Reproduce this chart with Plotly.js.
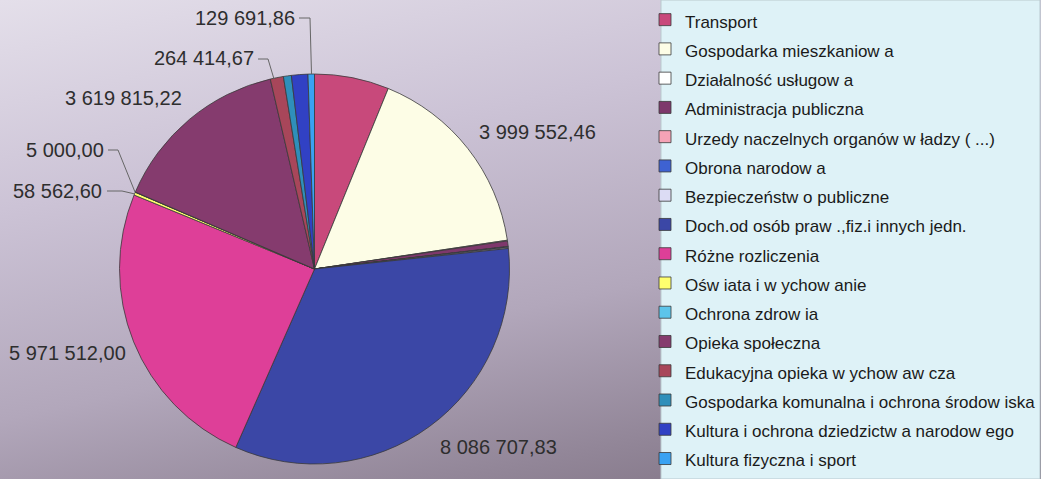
<!DOCTYPE html>
<html>
<head>
<meta charset="utf-8">
<script src="https://cdn.plot.ly/plotly-3.0.1.min.js"></script>
<style>
  html, body { margin: 0; padding: 0; }
  #chart {
    width: 1041px; height: 479px;
    background: linear-gradient(168deg, #e4dfea 0%, #ccc3d6 30%, #b2a7bb 60%, #928698 82%, #7a6d7d 100%);
  }
</style>
</head>
<body>
<div id="chart"></div>
<script>
// ---- data ----
const categories = [
  'Transport',
  'Gospodarka mieszkaniow a',
  'Działalność usługow a',
  'Administracja publiczna',
  'Urzedy naczelnych organów w ładzy ( ...)',
  'Obrona narodow a',
  'Bezpieczeństw o publiczne',
  'Doch.od osób praw .,fiz.i innych jedn.',
  'Różne rozliczenia',
  'Ośw iata i w ychow anie',
  'Ochrona zdrow ia',
  'Opieka społeczna',
  'Edukacyjna opieka w ychow aw cza',
  'Gospodarka komunalna i ochrona środow iska',
  'Kultura i ochrona dziedzictw a narodow ego',
  'Kultura fizyczna i sport'
];
const values = [
  1500000, 3999552.46, 15000, 110000, 8000, 12000, 20000,
  8086707.83, 5971512.00, 58562.60, 5000.00, 3619815.22,
  264414.67, 160000, 330000, 129691.86
];
const colors = [
  '#c8497b', '#fdfde6', '#ffffff', '#7e386c', '#f4a3b6', '#3e62d2', '#dcdcf4',
  '#3b47a6', '#de3f98', '#ffff6e', '#5cc4ea', '#853b6e',
  '#a8465a', '#2f8fba', '#3141c4', '#3aa2f2'
];
// indices of slices that carry a value label in the original
const labelled = [15, 12, 11, 10, 9, 1, 8, 7];

// ---- helpers ----
function fmtPL(v) {
  const parts = v.toFixed(2).split('.');
  const int = parts[0].replace(/\B(?=(\d{3})+(?!\d))/g, ' ');
  return int + ',' + parts[1];
}
const W = 1041, H = 479;
const px = x => x / W;
const py = y => 1 - y / H;

// label placement (pixel anchors, right-aligned text) and leader lines
const labelPlace = {
  15: { x: 297, y: 18, lead: [[299, 18], [310, 18], [311.5, 74]] },
  12: { x: 256, y: 58, lead: [[258, 59], [268, 59], [274, 79]] },
  11: { x: 184, y: 98 },
  10: { x: 106, y: 150, lead: [[108, 150], [118, 150], [135, 192]] },
  9:  { x: 104, y: 191, lead: [[107, 191], [122, 191], [135, 194]] },
  1:  { x: 598, y: 132 },
  8:  { x: 128, y: 353 },
  7:  { x: 559, y: 447 }
};

const annotations = [];
const shapes = [{
  type: 'rect', xref: 'paper', yref: 'paper',
  x0: px(661), x1: px(1040), y0: 0, y1: 1,
  fillcolor: '#def2f7', line: { color: '#b9c9ce', width: 1 }, layer: 'below'
}];
labelled.forEach(i => {
  const p = labelPlace[i];
  annotations.push({
    xref: 'paper', yref: 'paper', x: px(p.x), y: py(p.y),
    xanchor: 'right', yanchor: 'middle', showarrow: false,
    text: fmtPL(values[i]),
    font: { family: 'Liberation Sans, Arial, sans-serif', size: 20, color: '#2e2e2e' }
  });
  if (p.lead) {
    for (let k = 0; k < p.lead.length - 1; k++) {
      shapes.push({
        type: 'line', xref: 'paper', yref: 'paper',
        x0: px(p.lead[k][0]), y0: py(p.lead[k][1]),
        x1: px(p.lead[k + 1][0]), y1: py(p.lead[k + 1][1]),
        line: { color: '#666666', width: 1 }
      });
    }
  }
});

const cx = 314.5, cy = 269, R = 195;
const trace = {
  type: 'pie',
  labels: categories.map(c => '<span style="font-size:17px">' + c + '</span>'),
  values: values,
  sort: false,
  direction: 'clockwise',
  rotation: 0,
  textinfo: 'none',
  hoverinfo: 'label+value',
  marker: { colors: colors, line: { color: '#3a3a3a', width: 0.8 } },
  domain: { x: [px(cx - R), px(cx + R)], y: [py(cy + R), py(cy - R)] }
};

const layout = {
  width: W, height: H,
  margin: { l: 0, r: 0, t: 0, b: 0, autoexpand: false },
  paper_bgcolor: 'rgba(0,0,0,0)',
  plot_bgcolor: 'rgba(0,0,0,0)',
  showlegend: true,
  legend: {
    x: px(645), xanchor: 'left', y: 1, yanchor: 'top',
    bgcolor: 'rgba(0,0,0,0)', borderwidth: 0,
    font: { family: 'Liberation Sans, Arial, sans-serif', size: 20.2, color: '#1a1a1a' },
    traceorder: 'normal'
  },
  annotations: annotations,
  shapes: shapes
};

Plotly.newPlot('chart', [trace], layout, { displayModeBar: false, staticPlot: true });
</script>
</body>
</html>
